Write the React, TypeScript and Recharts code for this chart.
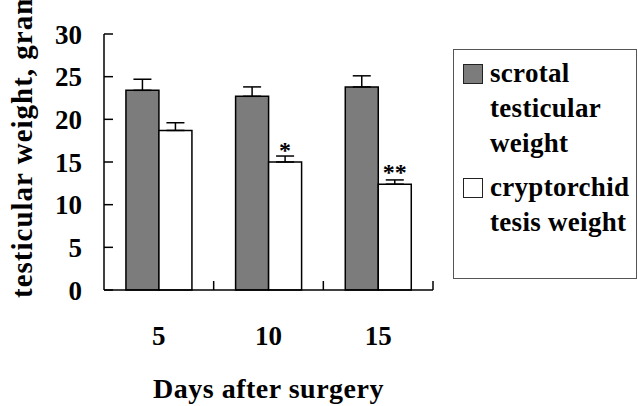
import React from 'react';
import { BarChart, Bar, XAxis, YAxis, ErrorBar, Legend, LabelList } from 'recharts';

const days = ['5', '10', '15'];
const scrotalWeight = [23.4, 22.7, 23.8];
const scrotalSE = [1.3, 1.1, 1.3];
const cryptorchidWeight = [18.7, 15.0, 12.4];
const cryptorchidSE = [0.9, 0.7, 0.5];
const significance = ['', '*', '**'];
const yTicks = [0, 5, 10, 15, 20, 25, 30];
const seriesNames = ['scrotal testicular weight', 'cryptorchid tesis weight'];
const legendLines = [
  ['scrotal', 'testicular', 'weight'],
  ['cryptorchid', 'tesis weight'],
];
const yAxisTitle = 'testicular weight, gram';
const xAxisTitle = 'Days after surgery';

const data = days.map((d, i) => ({
  day: d,
  scrotal: scrotalWeight[i],
  scrotalErr: [0, scrotalSE[i]],
  crypt: cryptorchidWeight[i],
  cryptErr: [0, cryptorchidSE[i]],
  sig: significance[i],
}));

const FONT = '"Liberation Serif", "Times New Roman", serif';
const X_TICK_MARGIN = 36;

const XTick = (props: any) => {
  const { x, y, payload, width } = props;
  const half = payload && typeof payload.offset === 'number' && payload.offset > 0
    ? payload.offset
    : (width || 329) / (days.length * 2);
  const axisY = y - X_TICK_MARGIN;
  return (
    <g>
      <line x1={x + half} x2={x + half} y1={axisY} y2={axisY - 9} stroke="#000" strokeWidth={1.5} />
      <text x={x} y={y} dy="0.71em" textAnchor="middle" fontFamily={FONT} fontWeight="bold" fontSize={27} fill="#000">
        {payload.value}
      </text>
    </g>
  );
};

const YTitle = () => (
  <text
    transform="rotate(-90)"
    x={-298}
    y={32}
    textAnchor="start"
    fontFamily={FONT}
    fontWeight="bold"
    fontSize={29}
    letterSpacing={1}
    fill="#000"
  >
    {yAxisTitle}
  </text>
);

const XTitle = (props: any) => {
  const vb = props.viewBox || {};
  return (
    <text
      x={vb.x + vb.width / 2}
      y={vb.y + 108}
      textAnchor="middle"
      fontFamily={FONT}
      fontWeight="bold"
      fontSize={28}
      letterSpacing={0.5}
      fill="#000"
    >
      {xAxisTitle}
    </text>
  );
};

const renderLegend = (props: any) => {
  const payload = [...(props.payload || [])].sort(
    (a: any, b: any) => seriesNames.indexOf(a.value) - seriesNames.indexOf(b.value)
  );
  return (
    <div
      style={{
        boxSizing: 'border-box',
        width: 184,
        height: 230,
        border: '1.5px solid #555',
        background: '#fff',
        fontFamily: FONT,
        fontWeight: 'bold',
        fontSize: 27,
        color: '#000',
        paddingTop: 6,
        textAlign: 'left',
      }}
    >
      {payload.map((entry: any, i: number) => {
        const idx = seriesNames.indexOf(entry.value);
        return (
          <div key={i} style={{ display: 'flex', alignItems: 'flex-start', marginTop: i === 0 ? 0 : 9 }}>
            <span
              style={{
                boxSizing: 'border-box',
                display: 'block',
                width: 20,
                height: 20,
                border: '1.5px solid #222',
                background: entry.color,
                marginLeft: 9,
                marginTop: 8,
                flex: 'none',
              }}
            />
            <div style={{ marginLeft: 7, lineHeight: '35px', letterSpacing: 0.3 }}>
              {(legendLines[idx] || [entry.value]).map((l, k) => (
                <div key={k} style={{ whiteSpace: 'pre' }}>{l}</div>
              ))}
            </div>
          </div>
        );
      })}
    </div>
  );
};

const Stars = (props: any) => {
  const { x, y, width, value } = props;
  if (!value) return null;
  return (
    <text
      x={x + width / 2}
      y={y - 4}
      textAnchor="middle"
      fontFamily={FONT}
      fontWeight="bold"
      fontSize={24}
      fill="#000"
    >
      {value}
    </text>
  );
};

export default function App() {
  return (
    <div style={{ position: 'absolute', left: 0, top: 0, width: 638, height: 406, background: '#fff' }}>
      <BarChart
        width={638}
        height={406}
        data={data}
        margin={{ top: 34, right: 21, bottom: 0, left: 44 }}
        barCategoryGap="20%"
        barGap={0}
      >
        <XAxis
          dataKey="day"
          height={116}
          axisLine={{ stroke: '#000', strokeWidth: 1.5 }}
          tickLine={false}
          tickSize={0}
          tickMargin={X_TICK_MARGIN}
          tick={<XTick />}
          label={<XTitle />}
        />
        <YAxis
          width={60}
          domain={[0, 30]}
          ticks={yTicks}
          interval={0}
          axisLine={{ stroke: '#000', strokeWidth: 1.5 }}
          tickLine={{ stroke: '#000', strokeWidth: 1.5 }}
          tickSize={-9}
          tickMargin={31}
          tick={{ fontFamily: FONT, fontWeight: 'bold', fontSize: 27, fill: '#000' }}
          label={<YTitle />}
        />
        <Legend
          layout="vertical"
          align="right"
          verticalAlign="top"
          content={renderLegend}
          wrapperStyle={{ position: 'absolute', left: 453, top: 49, width: 184, height: 230 }}
        />
        <Bar
          dataKey="scrotal"
          name={seriesNames[0]}
          fill="#7c7c7c"
          stroke="#000"
          strokeWidth={1.5}
          isAnimationActive={false}
        >
          <ErrorBar dataKey="scrotalErr" width={9} stroke="#000" strokeWidth={1.5} direction="y" />
        </Bar>
        <Bar
          dataKey="crypt"
          name={seriesNames[1]}
          fill="#ffffff"
          stroke="#000"
          strokeWidth={1.5}
          isAnimationActive={false}
        >
          <ErrorBar dataKey="cryptErr" width={9} stroke="#000" strokeWidth={1.5} direction="y" />
          <LabelList dataKey="sig" content={<Stars />} />
        </Bar>
      </BarChart>
    </div>
  );
}
